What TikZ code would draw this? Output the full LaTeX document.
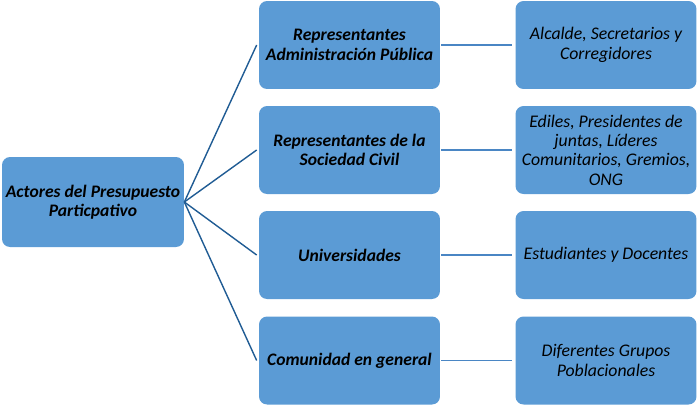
\documentclass[tikz,border=0pt]{standalone}
\usepackage{fontspec}
\setmainfont{Carlito}
\usepackage{xcolor}
\definecolor{boxcolor}{RGB}{91, 155, 213}
\definecolor{fancolor}{RGB}{32, 92, 148}
\definecolor{linkcolor}{RGB}{74, 134, 196}
\usepackage{tikz}

\begin{document}
\begin{tikzpicture}[x=0.02cm, y=-0.02cm,
    actor/.style={fill=boxcolor, rounded corners=0.16cm, align=center,
      minimum width=3.62cm, minimum height=1.76cm, inner sep=2pt,
      font=\fontsize{10}{11}\selectfont},
    main/.style={actor, font=\fontsize{10}{11}\selectfont\bfseries\itshape},
    member/.style={actor, font=\fontsize{10.1}{11}\selectfont\itshape},
    fan/.style={draw=fancolor, line width=0.8pt},
    link/.style={draw=linkcolor, line width=0.9pt}]
    \useasboundingbox (0,0) rectangle (700,407);
    \node[main, minimum width=3.64cm, minimum height=1.8cm] (root) at (93,202)
      {Actores del Presupuesto\\Particpativo};
    \node[main] (adm) at (349.5,45) {Representantes\\Administración Pública};
    \node[main] (soc) at (349.5,150) {Representantes de la\\Sociedad Civil};
    \node[main] (uni) at (349.5,255) {Universidades};
    \node[main] (com) at (349.5,360.5) {Comunidad en general};
    \node[member] (adm2) at (606,45) {Alcalde, Secretarios y\\Corregidores};
    \node[member] (soc2) at (606,150)
      {Ediles, Presidentes de\\juntas, Líderes\\Comunitarios, Gremios,\\ONG};
    \node[member] (uni2) at (606,255) {Estudiantes y Docentes};
    \node[member] (com2) at (606,360.5) {Diferentes Grupos\\Poblacionales};
    \foreach \m in {adm,soc,uni,com}{
      \draw[fan] (root.east) -- ([xshift=-0.04cm]\m.west);
      \draw[link] ([xshift=0.02cm]\m.east) -- ([xshift=-0.06cm]\m2.west);
    }
  \end{tikzpicture}
\end{document}
